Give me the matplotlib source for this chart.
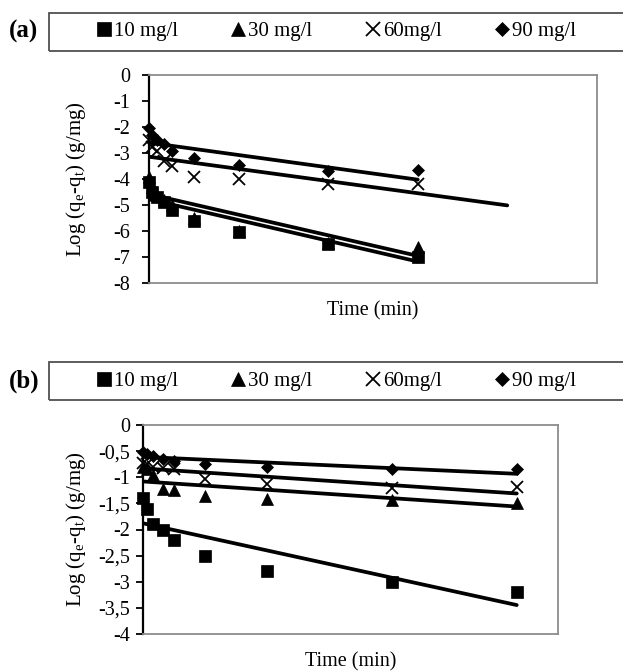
import numpy as np
import matplotlib
matplotlib.use("Agg")
import matplotlib.pyplot as plt
from matplotlib.lines import Line2D
from matplotlib.patches import Rectangle
from matplotlib.ticker import FuncFormatter
from matplotlib.transforms import blended_transform_factory

plt.rcParams['font.family'] = ['Liberation Serif', 'DejaVu Serif']
plt.rcParams['axes.unicode_minus'] = False

# sampling times (min), same for both panels
time_min = [0, 2, 5, 10, 15, 30, 60, 120, 180]
series_labels = ['10 mg/l', '30 mg/l', '60mg/l', '90 mg/l']

# panel (a)
a_10 = [-4.1, -4.5, -4.7, -4.9, -5.2, -5.6, -6.05, -6.5, -7.0]
a_30 = [-3.9, -4.3, -4.6, -4.8, -5.0, -5.5, -6.0, -6.45, -6.6]
a_60 = [-2.5, -2.75, -2.9, -3.3, -3.5, -3.9, -4.0, -4.2, -4.2]
a_90 = [-2.05, -2.3, -2.5, -2.65, -2.9, -3.2, -3.45, -3.7, -3.65]
a_fit_intercept = [-4.78, -4.58, -3.14, -2.6]
a_fit_slope = [-0.0133, -0.0132, -0.0078, -0.0079]
a_fit_end = [180, 180, 240, 180]

# panel (b)
b_10 = [-1.4, -1.6, -1.9, -2.0, -2.2, -2.5, -2.8, -3.0, -3.2]
b_30 = [-0.8, -0.85, -0.95, -1.22, -1.25, -1.35, -1.42, -1.43, -1.5]
b_60 = [-0.72, -0.75, -0.8, -0.82, -0.85, -1.03, -1.13, -1.2, -1.18]
b_90 = [-0.52, -0.55, -0.6, -0.65, -0.68, -0.75, -0.8, -0.85, -0.85]
b_fit_intercept = [-1.88, -1.08, -0.83, -0.61]
b_fit_slope = [-0.0087, -0.00267, -0.00267, -0.0018]
b_fit_end = [180, 180, 180, 180]

markers = ['s', '^', 'x', 'D']
msizes = [8.4, 8.6, 8.6, 6.2]
FS = 14.5


def draw_panel(ax, series, intercepts, slopes, ends, xmax, yticks, comma, pad):
    for vals, m, ms in zip(series, markers, msizes):
        ax.plot(time_min, vals, ls='none', marker=m, ms=ms, color='black',
                mew=1.3 if m == 'x' else 0.5, clip_on=False, zorder=3)
    for b0, b1, t_end in zip(intercepts, slopes, ends):
        t = np.array([0, t_end])
        ax.plot(t, b0 + b1 * t, color='black', lw=2.7, solid_capstyle='round', zorder=2)
    ax.set_xlim(0, xmax)
    ax.set_ylim(yticks[0], yticks[-1])
    ax.set_yticks(yticks)
    if comma:
        ax.yaxis.set_major_formatter(FuncFormatter(lambda v, p: ('%g' % v).replace('.', ',')))
    else:
        ax.yaxis.set_major_formatter(FuncFormatter(lambda v, p: '%g' % v))
    ax.set_xticks([])
    for side in ['top', 'right', 'bottom']:
        ax.spines[side].set_color('#8c8c8c')
        ax.spines[side].set_linewidth(1.3)
    ax.spines['left'].set_color('black')
    ax.spines['left'].set_linewidth(1.6)
    ax.tick_params(axis='y', direction='out', length=5, width=1.3, labelsize=FS, pad=pad)
    ax.set_xlabel('Time (min)', fontsize=FS, labelpad=13)
    ax.set_ylabel('Log (q$_\\mathregular{e}$-q$_\\mathregular{t}$) (g/mg)', fontsize=15)
    ax.yaxis.set_label_coords(88 / 623, 0.5,
                              transform=blended_transform_factory(fig.transFigure, ax.transAxes))


def draw_legend(y_top, tag):
    # framed box running off the right edge, tag to its left
    fig.add_artist(Rectangle((49 / 623, 1 - (y_top + 38) / 671), 0.95, 38 / 671,
                             transform=fig.transFigure, fill=False,
                             edgecolor='#505050', lw=1.3))
    fig.text(9 / 623, 1 - (y_top + 19) / 671, tag, fontsize=18, fontweight='bold',
             va='center', ha='left')
    handles = [Line2D([], [], ls='none', marker=m, color='black', ms=ms,
                      mew=1.3 if m == 'x' else 0.5)
               for m, ms in zip(markers, [9.4, 9.4, 10, 6.8])]
    fig.legend(handles, series_labels, ncol=4, loc='center left',
               bbox_to_anchor=(97 / 623, 1 - (y_top + 19) / 671),
               frameon=False, fontsize=15, handlelength=0.65, handletextpad=0.15,
               columnspacing=2.58, borderpad=0, borderaxespad=0)


fig = plt.figure(figsize=(6.23, 6.71), dpi=100)

ax_a = fig.add_axes([149.3 / 623, 1 - 283 / 671, 447.4 / 623, 207.8 / 671])
draw_panel(ax_a, [a_10, a_30, a_60, a_90], a_fit_intercept, a_fit_slope, a_fit_end,
           300, list(range(-8, 1)), False, 9)
draw_legend(12.7, '(a)')

ax_b = fig.add_axes([142.7 / 623, 1 - 634 / 671, 415.6 / 623, 209 / 671])
draw_panel(ax_b, [b_10, b_30, b_60, b_90], b_fit_intercept, b_fit_slope, b_fit_end,
           200, list(np.arange(-4, 0.01, 0.5)), True, 4)
draw_legend(362, '(b)')

fig.savefig('out.png', dpi=100)
